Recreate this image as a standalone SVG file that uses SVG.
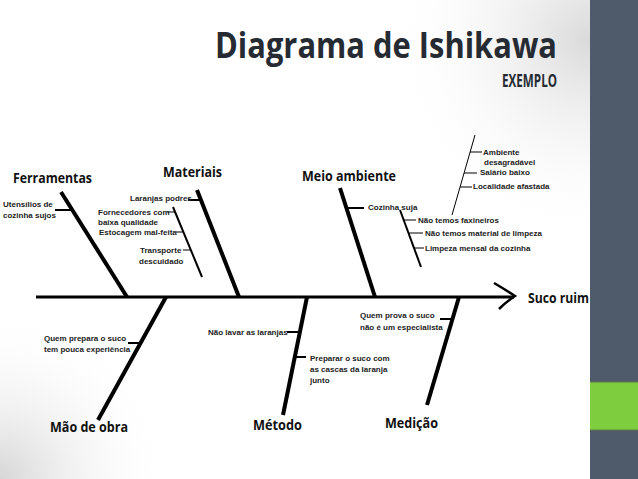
<svg xmlns="http://www.w3.org/2000/svg" width="638" height="479" viewBox="0 0 638 479">
<defs>
<radialGradient id="gTR" cx="590" cy="40" r="200" gradientUnits="userSpaceOnUse">
<stop offset="0" stop-color="#d9d9d9"/>
<stop offset="1" stop-color="#ffffff" stop-opacity="0"/>
</radialGradient>
<radialGradient id="gBL" cx="0" cy="479" r="170" gradientUnits="userSpaceOnUse">
<stop offset="0" stop-color="#d6d6d6"/>
<stop offset="1" stop-color="#ffffff" stop-opacity="0"/>
</radialGradient>
<style>
.lbl{font-family:"Open Sans","Liberation Sans",Arial,sans-serif;font-weight:bold;font-size:15px;fill:#111}
.sm{font-family:"Liberation Sans",Arial,sans-serif;font-weight:bold;font-size:8px;fill:#222}
.bone{stroke:#000;stroke-width:4;stroke-linecap:butt;fill:none}
.sub{stroke:#000;stroke-width:2;fill:none}
.thin{stroke:#000;stroke-width:1;fill:none}
.tick{stroke:#000;stroke-width:2;fill:none}
.tk1{stroke:#000;stroke-width:1;fill:none}
</style>
</defs>
<rect x="0" y="0" width="638" height="479" fill="#ffffff"/>
<rect x="0" y="0" width="590" height="479" fill="url(#gTR)"/>
<rect x="0" y="0" width="590" height="479" fill="url(#gBL)"/>
<rect x="590" y="0" width="48" height="479" fill="#4f5a6b"/>
<rect x="590" y="382" width="48" height="48" fill="#7dcd3f"/>
<line x1="590" y1="382" x2="638" y2="382" stroke="#5d7a4a" stroke-width="1"/>
<line x1="590" y1="430" x2="638" y2="430" stroke="#5d7a4a" stroke-width="1"/>

<g id="title">
<text x="215" y="58" font-family="'Open Sans',sans-serif" font-weight="bold" font-size="35" fill="#262b33" textLength="342" lengthAdjust="spacingAndGlyphs">Diagrama de Ishikawa</text>
<text x="502" y="87" font-family="'Open Sans',sans-serif" font-weight="bold" font-size="18" fill="#262b33" textLength="55" lengthAdjust="spacingAndGlyphs">EXEMPLO</text>
</g>

<g id="connectors">
<line x1="36" y1="297" x2="514" y2="297" stroke="#000" stroke-width="3"/>
<path d="M494 283 Q506 290 515 296 Q506 302 499 309" stroke="#000" stroke-width="2.5" fill="none"/>
<line class="bone" x1="61" y1="192" x2="127" y2="297"/>
<line class="bone" x1="197" y1="190" x2="239" y2="297"/>
<line class="bone" x1="340" y1="188" x2="375" y2="297"/>
<line class="bone" x1="166" y1="297" x2="98" y2="420"/>
<line class="bone" x1="307" y1="297" x2="283" y2="415"/>
<line class="bone" x1="459" y1="297" x2="427" y2="405"/>
<line class="sub" x1="173" y1="207" x2="202" y2="277"/>
<line class="sub" x1="400" y1="210" x2="421" y2="267"/>
<line class="thin" x1="475" y1="135" x2="452" y2="215"/>
<line class="tick" x1="55" y1="210" x2="71" y2="210"/>
<line class="tick" x1="188" y1="200" x2="201" y2="200"/>
<line class="tk1" x1="167" y1="212" x2="175" y2="212"/>
<line class="tk1" x1="176" y1="232" x2="183" y2="232"/>
<line class="tk1" x1="183" y1="250" x2="191" y2="250"/>
<line class="tick" x1="346" y1="208" x2="364" y2="208"/>
<line class="tk1" x1="404" y1="220" x2="416" y2="220"/>
<line class="tk1" x1="408" y1="233" x2="423" y2="233"/>
<line class="tk1" x1="414" y1="248" x2="424" y2="248"/>
<line class="tk1" x1="470" y1="152" x2="482" y2="152"/>
<line class="tk1" x1="464" y1="173" x2="477" y2="173"/>
<line class="tk1" x1="460" y1="187" x2="472" y2="187"/>
<line class="tick" x1="128" y1="343" x2="140" y2="343"/>
<line class="tick" x1="287" y1="332" x2="300" y2="332"/>
<line class="tick" x1="295" y1="357" x2="306" y2="357"/>
<line class="tick" x1="440" y1="319" x2="452" y2="319"/>
</g>

<g id="ferramentas">
<text class="lbl" x="13" y="183" textLength="79" lengthAdjust="spacingAndGlyphs">Ferramentas</text>
<text class="sm" x="3" y="207">Utensílios de</text>
<text class="sm" x="3" y="218">cozinha sujos</text>
</g>
<g id="materiais">
<text class="lbl" x="163" y="177" textLength="59" lengthAdjust="spacingAndGlyphs">Materiais</text>
<text class="sm" x="130" y="201">Laranjas podres</text>
<text class="sm" x="98" y="215">Fornecedores com</text>
<text class="sm" x="98" y="225">baixa qualidade</text>
<text class="sm" x="99" y="235">Estocagem mal-feita</text>
<text class="sm" x="140" y="253">Transporte</text>
<text class="sm" x="139" y="264">descuidado</text>
</g>
<g id="meio-ambiente">
<text class="lbl" x="302" y="181" textLength="94" lengthAdjust="spacingAndGlyphs">Meio ambiente</text>
<text class="sm" x="368" y="210">Cozinha suja</text>
<text class="sm" x="418" y="223">Não temos faxineiros</text>
<text class="sm" x="425" y="236">Não temos material de limpeza</text>
<text class="sm" x="425" y="251">Limpeza mensal da cozinha</text>
<text class="sm" x="483" y="155">Ambiente</text>
<text class="sm" x="484" y="165">desagradável</text>
<text class="sm" x="480" y="175">Salário baixo</text>
<text class="sm" x="473" y="189">Localidade afastada</text>
</g>
<g id="mao-de-obra">
<text class="lbl" x="50" y="432" textLength="78" lengthAdjust="spacingAndGlyphs">Mão de obra</text>
<text class="sm" x="44" y="341">Quem prepara o suco</text>
<text class="sm" x="44" y="352">tem pouca experiência</text>
</g>
<g id="metodo">
<text class="lbl" x="253" y="430" textLength="49" lengthAdjust="spacingAndGlyphs">Método</text>
<text class="sm" x="208" y="335">Não lavar as laranjas</text>
<text class="sm" x="310" y="361">Preparar o suco com</text>
<text class="sm" x="310" y="372">as cascas da laranja</text>
<text class="sm" x="310" y="383">junto</text>
</g>
<g id="medicao">
<text class="lbl" x="385" y="428" textLength="53" lengthAdjust="spacingAndGlyphs">Medição</text>
<text class="sm" x="360" y="318">Quem prova o suco</text>
<text class="sm" x="360" y="330">não é um especialista</text>
</g>
<g id="suco-ruim">
<text class="lbl" x="528" y="303" textLength="61" lengthAdjust="spacingAndGlyphs">Suco ruim</text>
</g>
</svg>
